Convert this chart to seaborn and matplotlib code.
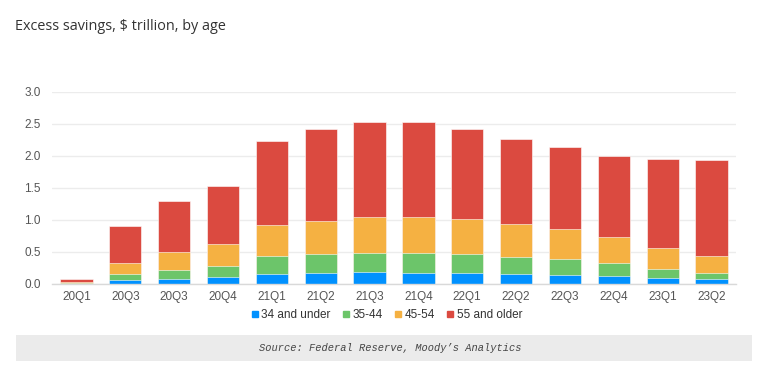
import matplotlib
matplotlib.use("Agg")
import matplotlib.pyplot as plt
import matplotlib.patches as mpatches
from matplotlib.lines import Line2D
import seaborn as sns
import pandas as pd
import numpy as np

# data (trillion $)
quarters = ["20Q1", "20Q3", "20Q3", "20Q4", "21Q1", "21Q2", "21Q3", "21Q4",
            "22Q1", "22Q2", "22Q3", "22Q4", "23Q1", "23Q2"]
under_34 = [0.005, 0.06, 0.08, 0.11, 0.16, 0.17, 0.18, 0.17, 0.17, 0.16, 0.14, 0.13, 0.10, 0.07]
age_35_44 = [0.01, 0.09, 0.14, 0.175, 0.28, 0.30, 0.30, 0.31, 0.29, 0.26, 0.25, 0.20, 0.14, 0.10]
age_45_54 = [0.02, 0.18, 0.28, 0.335, 0.48, 0.52, 0.56, 0.57, 0.55, 0.52, 0.47, 0.41, 0.32, 0.27]
over_55 = [0.05, 0.58, 0.79, 0.91, 1.31, 1.43, 1.48, 1.47, 1.41, 1.32, 1.27, 1.26, 1.39, 1.50]

series = ["34 and under", "35-44", "45-54", "55 and older"]
colors = ["#0091ff", "#6cc56a", "#f5b142", "#db4a40"]

df = pd.DataFrame({"pos": range(len(quarters)),
                   "34 and under": under_34, "35-44": age_35_44,
                   "45-54": age_45_54, "55 and older": over_55})
cum = df[series].cumsum(axis=1)

sns.set_theme(style="white")
plt.rcParams["font.family"] = ["Liberation Sans", "DejaVu Sans"]

fig = plt.figure(figsize=(7.73, 3.72), dpi=100)
ax = fig.add_axes([0.0673, 0.2366, 0.8847, 0.517])

# stacked bars: draw cumulative totals from the top layer down
for name, col in reversed(list(zip(series, colors))):
    sns.barplot(x=df["pos"], y=cum[name], color=col, width=0.66,
                saturation=1, edgecolor="#ffffff", linewidth=0.4, ax=ax)

ax.set_xlim(-0.5, len(quarters) - 0.5)
ax.set_ylim(0, 3.0)
ax.set_yticks(np.arange(0, 3.01, 0.5))
ax.set_yticklabels([f"{v:.1f}" for v in np.arange(0, 3.01, 0.5)])
ax.set_xticks(range(len(quarters)))
ax.set_xticklabels(quarters)
ax.set_xlabel("")
ax.set_ylabel("")
ax.grid(axis="y", color="#ececec", linewidth=1)
ax.set_axisbelow(True)
for s in ["top", "right", "left"]:
    ax.spines[s].set_visible(False)
ax.spines["bottom"].set_color("#d9d9d9")
ax.spines["bottom"].set_linewidth(1)
ax.tick_params(axis="both", length=0, labelsize=8.5, labelcolor="#555555")
ax.tick_params(axis="y", pad=8)
ax.tick_params(axis="x", pad=5)

handles = [Line2D([0], [0], marker="s", linestyle="", markersize=5,
                  markerfacecolor=c, markeredgecolor=c, label=n)
           for n, c in zip(series, colors)]
fig.legend(handles=handles, loc="center", bbox_to_anchor=(0.5, 0.152), ncol=4,
           frameon=False, fontsize=8.5, handlelength=0.6, handletextpad=0.25,
           columnspacing=1.0, labelcolor="#333333")

fig.text(0.0195, 0.93, "Excess savings, $ trillion, by age", fontsize=10.4,
         color="#333333", family=["Open Sans", "DejaVu Sans"], va="center")

# source box
fig.patches.append(mpatches.Rectangle((16 / 773, 1 - 361 / 372), 736 / 773, 26 / 372,
                                      transform=fig.transFigure, facecolor="#ebebeb",
                                      edgecolor="none", zorder=0))
fig.text(0.505, 1 - 348 / 372, "Source: Federal Reserve, Moody\u2019s Analytics",
         fontsize=7.5, color="#444444", style="italic",
         family=["Liberation Mono", "DejaVu Sans Mono"], ha="center", va="center")

fig.savefig("out.png", dpi=100)
